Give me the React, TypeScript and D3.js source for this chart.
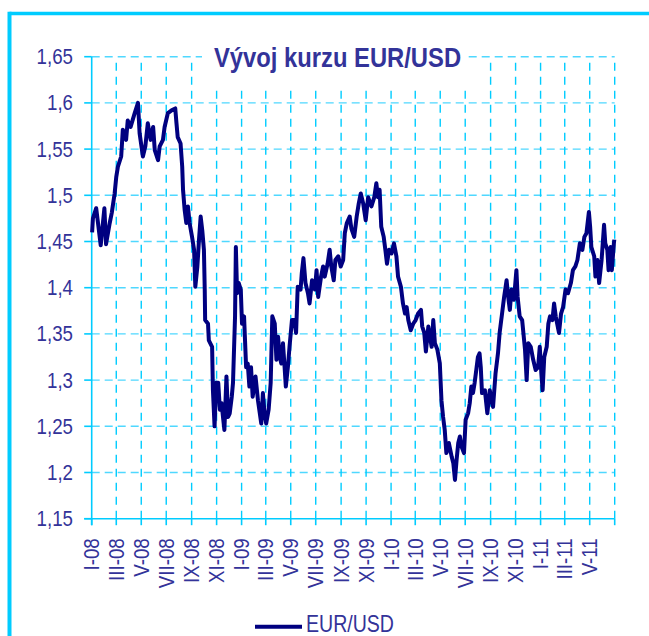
import React from "react";
import * as d3 from "d3";

const W = 649;
const H = 636;

const TITLE = "Vývoj kurzu EUR/USD";
const SERIES_NAME = "EUR/USD";

const yTicks = [1.15, 1.2, 1.25, 1.3, 1.35, 1.4, 1.45, 1.5, 1.55, 1.6, 1.65];

const tickDates = [
  "2008-01-01", "2008-03-01", "2008-05-01", "2008-07-01", "2008-09-01", "2008-11-01",
  "2009-01-01", "2009-03-01", "2009-05-01", "2009-07-01", "2009-09-01", "2009-11-01",
  "2010-01-01", "2010-03-01", "2010-05-01", "2010-07-01", "2010-09-01", "2010-11-01",
  "2011-01-01", "2011-03-01", "2011-05-01", "2011-07-01",
];
const tickLabels = [
  "I-08", "III-08", "V-08", "VII-08", "IX-08", "XI-08",
  "I-09", "III-09", "V-09", "VII-09", "IX-09", "XI-09",
  "I-10", "III-10", "V-10", "VII-10", "IX-10", "XI-10",
  "I-11", "III-11", "V-11", "",
];

const dates2008 = [
  "2008-01-02", "2008-01-04", "2008-01-12", "2008-01-23", "2008-02-01", "2008-02-05", "2008-02-14", "2008-02-19",
  "2008-02-26", "2008-03-01", "2008-03-05", "2008-03-13", "2008-03-17", "2008-03-25", "2008-03-29", "2008-04-05",
  "2008-04-15", "2008-04-23", "2008-04-27", "2008-05-05", "2008-05-11", "2008-05-17", "2008-05-24", "2008-05-30",
  "2008-06-03", "2008-06-11", "2008-06-15", "2008-06-23", "2008-06-27", "2008-07-05", "2008-07-14", "2008-07-23",
  "2008-07-26", "2008-07-29", "2008-08-05", "2008-08-09", "2008-08-11", "2008-08-15", "2008-08-19", "2008-08-23",
  "2008-08-27", "2008-09-02", "2008-09-07", "2008-09-10", "2008-09-15", "2008-09-19", "2008-09-23", "2008-09-27",
  "2008-10-01", "2008-10-03", "2008-10-04", "2008-10-11", "2008-10-13", "2008-10-21", "2008-10-23", "2008-10-27",
  "2008-10-31", "2008-11-05", "2008-11-09", "2008-11-13", "2008-11-20", "2008-11-25", "2008-11-29", "2008-12-03",
  "2008-12-08", "2008-12-11", "2008-12-16", "2008-12-18", "2008-12-21", "2008-12-25", "2008-12-30",
];
const rates2008 = [
  1.460, 1.475, 1.486, 1.446, 1.486, 1.447, 1.470, 1.481,
  1.502, 1.520, 1.531, 1.542, 1.571, 1.560, 1.581, 1.574,
  1.589, 1.600, 1.567, 1.542, 1.553, 1.578, 1.560, 1.574,
  1.549, 1.538, 1.553, 1.560, 1.574, 1.589, 1.592, 1.594,
  1.578, 1.563, 1.556, 1.531, 1.506, 1.484, 1.470, 1.488,
  1.470, 1.455, 1.441, 1.401, 1.423, 1.452, 1.477, 1.462,
  1.441, 1.398, 1.365, 1.361, 1.343, 1.336, 1.289, 1.250,
  1.297, 1.297, 1.268, 1.275, 1.246, 1.304, 1.260, 1.264,
  1.282, 1.297, 1.369, 1.444, 1.394, 1.405, 1.398,
];

const dates2009 = [
  "2009-01-02", "2009-01-07", "2009-01-12", "2009-01-16", "2009-01-20", "2009-01-24", "2009-01-28", "2009-02-04",
  "2009-02-10", "2009-02-18", "2009-02-22", "2009-02-26", "2009-03-02", "2009-03-08", "2009-03-13", "2009-03-17",
  "2009-03-23", "2009-03-27", "2009-03-31", "2009-04-04", "2009-04-08", "2009-04-12", "2009-04-16", "2009-04-19",
  "2009-04-24", "2009-04-28", "2009-05-04", "2009-05-10", "2009-05-14", "2009-05-18", "2009-05-25", "2009-05-28",
  "2009-06-01", "2009-06-06", "2009-06-12", "2009-06-16", "2009-06-22", "2009-06-29", "2009-07-03", "2009-07-07",
  "2009-07-14", "2009-07-19", "2009-07-23", "2009-07-30", "2009-08-04", "2009-08-08", "2009-08-14", "2009-08-18",
  "2009-08-25", "2009-08-31", "2009-09-06", "2009-09-10", "2009-09-15", "2009-09-22", "2009-09-26", "2009-10-03",
  "2009-10-09", "2009-10-14", "2009-10-19", "2009-10-25", "2009-10-31", "2009-11-06", "2009-11-14", "2009-11-21",
  "2009-11-26", "2009-11-30", "2009-12-04", "2009-12-08", "2009-12-14", "2009-12-18", "2009-12-22", "2009-12-27",
];
const rates2009 = [
  1.361, 1.369, 1.314, 1.318, 1.293, 1.314, 1.282, 1.304,
  1.278, 1.253, 1.286, 1.264, 1.253, 1.268, 1.297, 1.369,
  1.361, 1.322, 1.347, 1.325, 1.318, 1.340, 1.314, 1.293,
  1.314, 1.336, 1.365, 1.365, 1.351, 1.401, 1.398, 1.416,
  1.432, 1.405, 1.394, 1.383, 1.408, 1.398, 1.419, 1.390,
  1.412, 1.423, 1.412, 1.426, 1.441, 1.423, 1.408, 1.430,
  1.434, 1.423, 1.430, 1.459, 1.470, 1.477, 1.464, 1.455,
  1.477, 1.491, 1.502, 1.491, 1.473, 1.498, 1.488, 1.498,
  1.513, 1.498, 1.506, 1.466, 1.455, 1.441, 1.426, 1.441,
];

const dates2010 = [
  "2010-01-02", "2010-01-08", "2010-01-14", "2010-01-18", "2010-01-25", "2010-01-30", "2010-02-04", "2010-02-08",
  "2010-02-12", "2010-02-18", "2010-02-24", "2010-03-02", "2010-03-08", "2010-03-15", "2010-03-18", "2010-03-23",
  "2010-03-27", "2010-04-02", "2010-04-06", "2010-04-10", "2010-04-14", "2010-04-18", "2010-04-24", "2010-04-30",
  "2010-05-04", "2010-05-08", "2010-05-12", "2010-05-16", "2010-05-22", "2010-05-29", "2010-06-02", "2010-06-06",
  "2010-06-10", "2010-06-14", "2010-06-18", "2010-06-22", "2010-06-28", "2010-07-02", "2010-07-08", "2010-07-12",
  "2010-07-16", "2010-07-20", "2010-07-24", "2010-07-28", "2010-08-01", "2010-08-05", "2010-08-08", "2010-08-11",
  "2010-08-18", "2010-08-24", "2010-08-30", "2010-09-07", "2010-09-13", "2010-09-19", "2010-09-23", "2010-09-29",
  "2010-10-04", "2010-10-10", "2010-10-14", "2010-10-18", "2010-10-22", "2010-10-28", "2010-11-03", "2010-11-06",
  "2010-11-11", "2010-11-17", "2010-11-24", "2010-11-28", "2010-12-02", "2010-12-08", "2010-12-14", "2010-12-20",
  "2010-12-26", "2010-12-30",
];
const rates2010 = [
  1.437, 1.448, 1.434, 1.412, 1.401, 1.383, 1.372, 1.379,
  1.365, 1.354, 1.361, 1.365, 1.372, 1.376, 1.358, 1.351,
  1.331, 1.358, 1.347, 1.336, 1.365, 1.340, 1.333, 1.318,
  1.278, 1.260, 1.246, 1.221, 1.232, 1.217, 1.210, 1.192,
  1.214, 1.232, 1.239, 1.228, 1.221, 1.257, 1.264, 1.275,
  1.293, 1.286, 1.297, 1.311, 1.325, 1.329, 1.314, 1.286,
  1.289, 1.264, 1.289, 1.271, 1.307, 1.329, 1.351, 1.372,
  1.390, 1.408, 1.390, 1.376, 1.398, 1.387, 1.419, 1.390,
  1.369, 1.365, 1.333, 1.300, 1.340, 1.336, 1.322, 1.311,
  1.314, 1.336,
];

const dates2011 = [
  "2011-01-03", "2011-01-06", "2011-01-10", "2011-01-16", "2011-01-20", "2011-01-24", "2011-01-30", "2011-02-03",
  "2011-02-07", "2011-02-15", "2011-02-20", "2011-02-25", "2011-03-03", "2011-03-09", "2011-03-16", "2011-03-21",
  "2011-03-27", "2011-04-01", "2011-04-07", "2011-04-13", "2011-04-18", "2011-04-23", "2011-04-29", "2011-05-02",
  "2011-05-05", "2011-05-12", "2011-05-15", "2011-05-20", "2011-05-24", "2011-05-30", "2011-06-05", "2011-06-08",
  "2011-06-13", "2011-06-16", "2011-06-21", "2011-06-24", "2011-06-29", "2011-06-30",
];
const rates2011 = [
  1.307, 1.289, 1.325, 1.336, 1.361, 1.369, 1.365, 1.383,
  1.369, 1.351, 1.372, 1.379, 1.398, 1.394, 1.405, 1.419,
  1.423, 1.430, 1.448, 1.441, 1.455, 1.459, 1.482, 1.466,
  1.444, 1.434, 1.412, 1.430, 1.405, 1.430, 1.468, 1.448,
  1.441, 1.419, 1.444, 1.419, 1.448, 1.452,
];

const parse = d3.timeParse("%Y-%m-%d");

const FONT = "'Liberation Sans', Arial, sans-serif";
const SX = 0.85; // horizontal condensing of the narrow typeface
const TEXT_COLOR = "#333399";
const GRID = "#00CCFF";
const GRID_H = "#4FD8FF";
const LINE = "#000080";

export default function App() {
  const allDates = [...dates2008, ...dates2009, ...dates2010, ...dates2011].map((s) => parse(s) as Date);
  const allRates = [...rates2008, ...rates2009, ...rates2010, ...rates2011];
  const data = allDates.map((d, i) => ({ date: d, value: allRates[i] }));

  const left = 91.7;
  const right = 614.7;
  const top = 56.7;
  const bottom = 518.7;

  const x = d3
    .scaleTime()
    .domain([parse("2008-01-01") as Date, parse("2011-07-01") as Date])
    .range([left, right]);
  const y = d3.scaleLinear().domain([1.15, 1.65]).range([bottom, top]);

  const line = d3
    .line<{ date: Date; value: number }>()
    .x((d) => x(d.date))
    .y((d) => y(d.value))
    .curve(d3.curveLinear);

  const fmt = (v: number) => d3.format(".2~f")(v).replace(".", ",");
  const ticks = tickDates.map((s) => parse(s) as Date);

  return (
    <svg
      width={W}
      height={H}
      style={{ position: "absolute", left: 0, top: 0, background: "#fff" }}
      fontFamily={FONT}
    >
      <rect x={0} y={0} width={W} height={H} fill="#fff" />
      {/* outer frame (top and left visible) */}
      <line x1={9.5} x2={W} y1={13.5} y2={13.5} stroke="#00CCFF" strokeWidth={3.5} />
      <line x1={9.5} x2={9.5} y1={11.75} y2={H} stroke="#00CCFF" strokeWidth={4} />

      {/* horizontal gridlines */}
      {yTicks.slice(1).map((t) => (
        <line
          key={"h" + t}
          x1={left}
          x2={right}
          y1={y(t)}
          y2={y(t)}
          stroke={GRID_H}
          strokeWidth={1.4}
          strokeDasharray="8,5"
        />
      ))}
      {/* vertical gridlines */}
      {ticks.slice(1).map((d, i) => (
        <line
          key={"v" + i}
          x1={x(d)}
          x2={x(d)}
          y1={bottom}
          y2={top}
          stroke={GRID}
          strokeWidth={1.4}
          strokeDasharray="8,6"
        />
      ))}

      {/* title background */}
      <rect x={202} y={36} width={265} height={50} fill="#fff" />
      <text
        transform={`translate(337.5,66.5) scale(${SX},1)`}
        textAnchor="middle"
        fontSize={28}
        fontWeight="bold"
        fill={TEXT_COLOR}
      >
        {TITLE}
      </text>

      {/* axes */}
      <line x1={left} x2={left} y1={top} y2={bottom + 6.5} stroke={GRID} strokeWidth={1.6} />
      <line x1={left - 7.5} x2={right} y1={bottom} y2={bottom} stroke={GRID} strokeWidth={1.6} />
      {yTicks.map((t) => (
        <line key={"yt" + t} x1={left - 7.5} x2={left} y1={y(t)} y2={y(t)} stroke={GRID} strokeWidth={1.6} />
      ))}
      {ticks.map((d, i) => (
        <line key={"xt" + i} x1={x(d)} x2={x(d)} y1={bottom} y2={bottom + 6.5} stroke={GRID} strokeWidth={1.6} />
      ))}

      {/* y labels */}
      {yTicks.map((t) => (
        <text
          key={"yl" + t}
          transform={`translate(73,${y(t) + 7.5}) scale(${SX},1)`}
          textAnchor="end"
          fontSize={22}
          fill={TEXT_COLOR}
        >
          {fmt(t)}
        </text>
      ))}
      {/* x labels */}
      {ticks.map((d, i) => (
        <text
          key={"xl" + i}
          transform={`translate(${x(d)},538.3) rotate(-90) scale(${SX},1)`}
          textAnchor="end"
          dy="0.35em"
          fontSize={22}
          fill={TEXT_COLOR}
        >
          {tickLabels[i]}
        </text>
      ))}

      {/* series */}
      <path d={line(data) || ""} fill="none" stroke={LINE} strokeWidth={4} strokeLinejoin="round" />

      {/* legend */}
      <line x1={255} x2={302} y1={626.7} y2={626.7} stroke={LINE} strokeWidth={4} />
      <text transform={`translate(306,632) scale(${SX},1)`} fontSize={23} fill={TEXT_COLOR}>
        {SERIES_NAME}
      </text>
    </svg>
  );
}
